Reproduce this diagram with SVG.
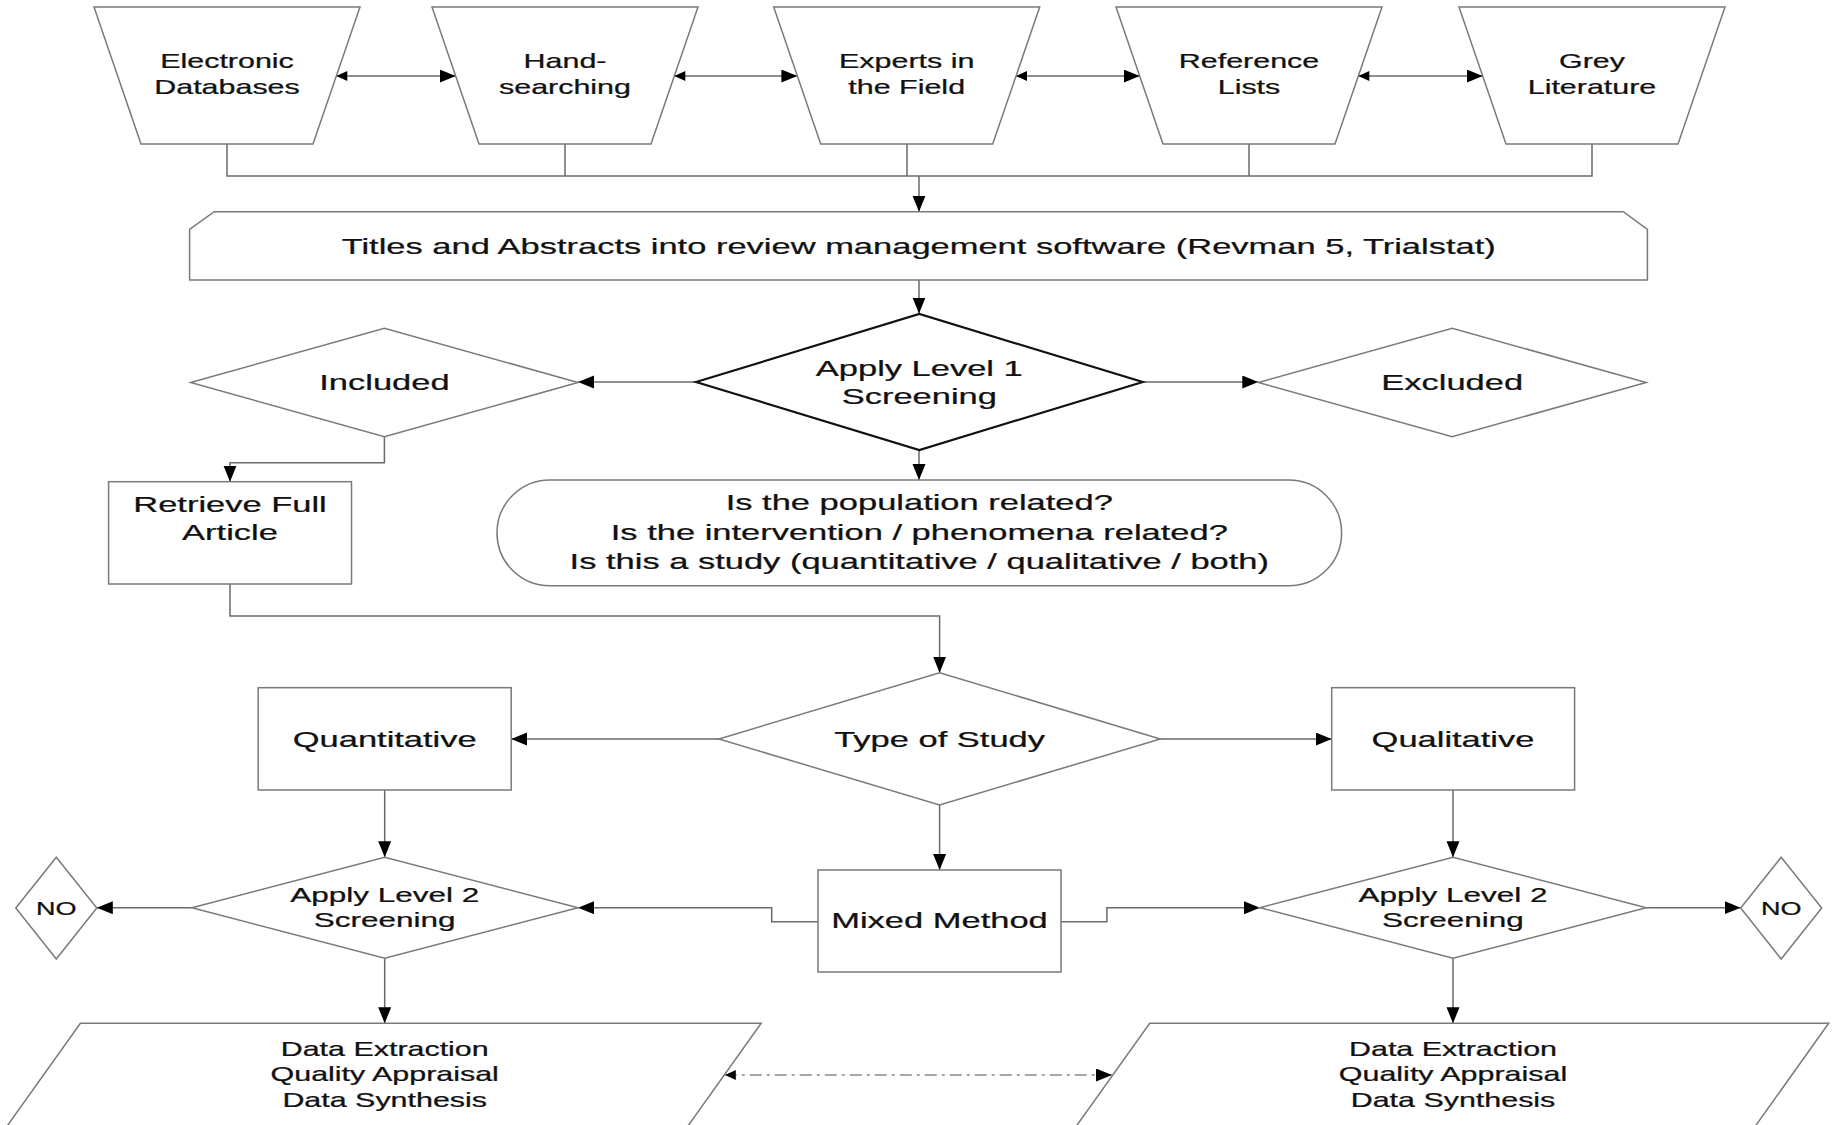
<svg xmlns="http://www.w3.org/2000/svg" width="1835" height="1125" viewBox="0 0 1835 1125">
<defs>
<style>
.n{fill:#fff;stroke:#7a7a7a;stroke-width:1.5}
.b{fill:#fff;stroke:#111;stroke-width:2.2}
.c{fill:none;stroke:#6a6a6a;stroke-width:1.5}
.d{fill:none;stroke:#8a8a8a;stroke-width:1.5;stroke-dasharray:12 5 3 5}
text{font-family:"Liberation Sans",Arial,sans-serif;fill:#111;stroke:#111;stroke-width:0.25;text-anchor:middle}
.s20{font-size:20.3px}
.s21{font-size:21px}
.s23{font-size:23px}
.s18{font-size:18px}
</style>
<marker id="e" markerUnits="userSpaceOnUse" markerWidth="17" markerHeight="14" refX="16" refY="6.5" orient="auto"><path d="M0,0 L16,6.5 L0,13 Z" fill="#000"/></marker>
<marker id="s" markerUnits="userSpaceOnUse" markerWidth="12" markerHeight="11" refX="0" refY="5" orient="auto"><path d="M11,0 L0,5 L11,10 Z" fill="#000"/></marker>
</defs>
<rect width="1835" height="1125" fill="#fff"/>

<g id="connectors">
<path class="c" d="M336.3,76 H455.7" marker-start="url(#s)" marker-end="url(#e)"/>
<path class="c" d="M674.3,76 H797.4" marker-start="url(#s)" marker-end="url(#e)"/>
<path class="c" d="M1016,76 H1139.7" marker-start="url(#s)" marker-end="url(#e)"/>
<path class="c" d="M1358.3,76 H1482.7" marker-start="url(#s)" marker-end="url(#e)"/>
<path class="c" d="M227,144 V176 H1592 V144 M565,144 V176 M907,144 V176 M1249,144 V176"/>
<path class="c" d="M919,176 V211.7" marker-end="url(#e)"/>
<path class="c" d="M919,280 V313.6" marker-end="url(#e)"/>
<path class="c" d="M696,382 H578" marker-end="url(#e)"/>
<path class="c" d="M1142.7,382 H1258.3" marker-end="url(#e)"/>
<path class="c" d="M919,450 V480" marker-end="url(#e)"/>
<path class="c" d="M384.4,436.7 V462.7 H230 V481.7" marker-end="url(#e)"/>
<path class="c" d="M230,584 V616 H939.6 V672.7" marker-end="url(#e)"/>
<path class="c" d="M719,739 H511.2" marker-end="url(#e)"/>
<path class="c" d="M1160.3,739 H1331.7" marker-end="url(#e)"/>
<path class="c" d="M939.6,805 V870" marker-end="url(#e)"/>
<path class="c" d="M384.7,790 V857.3" marker-end="url(#e)"/>
<path class="c" d="M1453,790 V857.3" marker-end="url(#e)"/>
<path class="c" d="M818,921.7 H771.7 V907.7 H578" marker-end="url(#e)"/>
<path class="c" d="M1061,921.7 H1106.9 V907.7 H1260" marker-end="url(#e)"/>
<path class="c" d="M191.9,907.7 H96.8" marker-end="url(#e)"/>
<path class="c" d="M1646.2,907.7 H1740.7" marker-end="url(#e)"/>
<path class="c" d="M384.7,958.3 V1023.3" marker-end="url(#e)"/>
<path class="c" d="M1453,958.3 V1023.3" marker-end="url(#e)"/>
<path class="d" d="M724.8,1075 H1112" marker-start="url(#s)" marker-end="url(#e)"/>
</g>

<g id="electronic-databases">
<path class="n" d="M94,7 H360 L313,144 H141 Z"/>
<text class="s20" transform="translate(227,68) scale(1.5,1)"><tspan x="0">Electronic</tspan><tspan x="0" dy="25.6">Databases</tspan></text>
</g>
<g id="hand-searching">
<path class="n" d="M432,7 H698 L651,144 H479 Z"/>
<text class="s20" transform="translate(565,68) scale(1.5,1)"><tspan x="0">Hand-</tspan><tspan x="0" dy="25.6">searching</tspan></text>
</g>
<g id="experts">
<path class="n" d="M773.7,7 H1039.7 L992.7,144 H820.7 Z"/>
<text class="s20" transform="translate(906.7,68) scale(1.5,1)"><tspan x="0">Experts in</tspan><tspan x="0" dy="25.6">the Field</tspan></text>
</g>
<g id="reference-lists">
<path class="n" d="M1116,7 H1382 L1335,144 H1163 Z"/>
<text class="s20" transform="translate(1249,68) scale(1.5,1)"><tspan x="0">Reference</tspan><tspan x="0" dy="25.6">Lists</tspan></text>
</g>
<g id="grey-literature">
<path class="n" d="M1459,7 H1725 L1678,144 H1506 Z"/>
<text class="s20" transform="translate(1592,68) scale(1.5,1)"><tspan x="0">Grey</tspan><tspan x="0" dy="25.6">Literature</tspan></text>
</g>

<g id="software">
<path class="n" d="M189.6,229.3 L214.2,211.7 H1623.3 L1647.4,229.3 V280 H189.6 Z"/>
<text class="s23" transform="translate(918.7,254) scale(1.5,1)">Titles and Abstracts into review management software (Revman 5, Trialstat)</text>
</g>

<g id="level1">
<path class="b" d="M696,382 L919.3,314 L1142.7,382 L919.3,450 Z"/>
<text class="s23" transform="translate(919.3,375.7) scale(1.5,1)"><tspan x="0">Apply Level 1</tspan><tspan x="0" dy="28">Screening</tspan></text>
</g>

<g id="included">
<path class="n" d="M190.7,382.5 L384.4,328.3 L578,382.5 L384.4,436.7 Z"/>
<text class="s23" transform="translate(384.4,389.5) scale(1.5,1)">Included</text>
</g>
<g id="excluded">
<path class="n" d="M1258.3,382.5 L1452.2,328.3 L1646.2,382.5 L1452.2,436.7 Z"/>
<text class="s23" transform="translate(1452.2,389.5) scale(1.5,1)">Excluded</text>
</g>

<g id="retrieve">
<rect class="n" x="108.6" y="481.7" width="242.9" height="102.3"/>
<text class="s23" transform="translate(230,511.5) scale(1.5,1)"><tspan x="0">Retrieve Full</tspan><tspan x="0" dy="28.6">Article</tspan></text>
</g>

<g id="questions">
<rect class="n" x="497" y="480" width="844.6" height="105.7" rx="52.8" ry="52.8"/>
<text class="s23" transform="translate(919.3,510.4) scale(1.5,1)"><tspan x="0">Is the population related?</tspan><tspan x="0" dy="29.2">Is the intervention / phenomena related?</tspan><tspan x="0" dy="29.2">Is this a study (quantitative / qualitative / both)</tspan></text>
</g>

<g id="type-of-study">
<path class="n" d="M719,739 L939.6,672.7 L1160.3,739 L939.6,805 Z"/>
<text class="s23" transform="translate(939.6,747.2) scale(1.5,1)">Type of Study</text>
</g>

<g id="quantitative">
<rect class="n" x="258.2" y="687.7" width="253" height="102.3"/>
<text class="s23" transform="translate(384.7,747.2) scale(1.5,1)">Quantitative</text>
</g>
<g id="qualitative">
<rect class="n" x="1331.7" y="687.7" width="242.9" height="102.3"/>
<text class="s23" transform="translate(1453,747.2) scale(1.5,1)">Qualitative</text>
</g>

<g id="mixed-method">
<rect class="n" x="818" y="870" width="243" height="102"/>
<text class="s23" transform="translate(939.5,928.4) scale(1.5,1)">Mixed Method</text>
</g>

<g id="level2-left">
<path class="n" d="M191.9,907.7 L384.7,857.3 L578,907.7 L384.7,958.3 Z"/>
<text class="s21" transform="translate(384.7,902) scale(1.5,1)"><tspan x="0">Apply Level 2</tspan><tspan x="0" dy="25">Screening</tspan></text>
</g>
<g id="level2-right">
<path class="n" d="M1260,907.7 L1453,857.3 L1646.2,907.7 L1453,958.3 Z"/>
<text class="s21" transform="translate(1453,902) scale(1.5,1)"><tspan x="0">Apply Level 2</tspan><tspan x="0" dy="25">Screening</tspan></text>
</g>

<g id="no-left">
<path class="n" d="M15.8,908 L56.3,857.3 L96.8,908 L56.3,959 Z"/>
<text class="s18" transform="translate(56.3,914.5) scale(1.5,1)">NO</text>
</g>
<g id="no-right">
<path class="n" d="M1740.7,908 L1781.2,857.3 L1821.7,908 L1781.2,959 Z"/>
<text class="s18" transform="translate(1781.2,914.5) scale(1.5,1)">NO</text>
</g>

<g id="data-left">
<path class="n" d="M80.4,1023.3 H761.2 L677.2,1141 H-3.6 Z"/>
<text class="s20" transform="translate(384.7,1055.8) scale(1.5,1)"><tspan x="0">Data Extraction</tspan><tspan x="0" dy="25.7">Quality Appraisal</tspan><tspan x="0" dy="25.7">Data Synthesis</tspan></text>
</g>
<g id="data-right">
<path class="n" d="M1149.7,1023.3 H1828.7 L1744.7,1141 H1065.7 Z"/>
<text class="s20" transform="translate(1453,1055.8) scale(1.5,1)"><tspan x="0">Data Extraction</tspan><tspan x="0" dy="25.7">Quality Appraisal</tspan><tspan x="0" dy="25.7">Data Synthesis</tspan></text>
</g>
</svg>
